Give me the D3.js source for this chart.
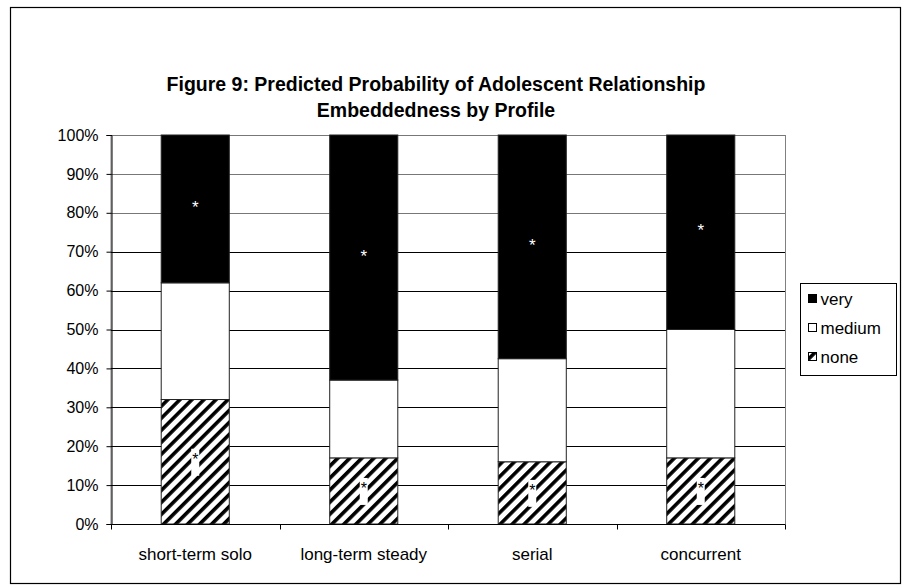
<!DOCTYPE html>
<html>
<head>
<meta charset="utf-8">
<script src="https://cdn.jsdelivr.net/npm/d3@7"></script>
<style>
  html, body { margin: 0; padding: 0; background: #fff; }
  svg { display: block; font-family: "Liberation Sans", Arial, sans-serif; }
</style>
</head>
<body>
<svg id="chart" width="906" height="585"></svg>
<script>
// Profiles and predicted probabilities (percent) for each embeddedness level
const categories = ["short-term solo", "long-term steady", "serial", "concurrent"];
const noneValues = [32, 17, 16, 17];
const mediumValues = [30, 20, 26.5, 33];
const veryValues = [38, 63, 57.5, 50];
// Significance markers placed on segments
const veryMarks = ["*", "*", "*", "*"];
const noneMarks = ["*", "*", "*", "*"];
const yTicks = [0, 10, 20, 30, 40, 50, 60, 70, 80, 90, 100];
const seriesNames = ["none", "medium", "very"];
const legendOrder = ["very", "medium", "none"];

const svg = d3.select("#chart");

// chart frame
svg.append("rect")
  .attr("x", 10.5).attr("y", 7.5).attr("width", 890).attr("height", 576)
  .attr("fill", "#fff").attr("stroke", "#000").attr("stroke-width", 1.2);

// diagonal hatch for the "none" level
const defs = svg.append("defs");
const pat = defs.append("pattern")
  .attr("id", "hatch").attr("patternUnits", "userSpaceOnUse")
  .attr("width", 8.5).attr("height", 8.5)
  .attr("patternTransform", "rotate(45)");
pat.append("rect").attr("width", 8.5).attr("height", 8.5).attr("fill", "#fff");
pat.append("rect").attr("x", 0).attr("width", 3.6).attr("height", 8.5).attr("fill", "#000");

const plot = { left: 111, right: 785, top: 135, bottom: 524 };

const x = d3.scaleBand().domain(categories).range([plot.left, plot.right]).padding(0);
const y = d3.scaleLinear().domain([0, 100]).range([plot.bottom, plot.top]);
const barW = x.bandwidth() * 0.404;

// title
const title = svg.append("text")
  .attr("x", 436).attr("text-anchor", "middle")
  .attr("font-weight", "bold").attr("font-size", 19.5).attr("fill", "#000");
title.append("tspan").attr("x", 436).attr("y", 91).text("Figure 9: Predicted Probability of Adolescent Relationship");
title.append("tspan").attr("x", 436).attr("y", 117).text("Embeddedness by Profile");

// plot area border
svg.append("rect")
  .attr("x", plot.left).attr("y", plot.top + 0.5)
  .attr("width", plot.right - plot.left + 0.5).attr("height", plot.bottom - plot.top)
  .attr("fill", "#fff").attr("stroke", "#808080").attr("stroke-width", 1);

// gridlines
svg.append("g").selectAll("line").data(yTicks.filter(d => d > 0)).join("line")
  .attr("x1", plot.left).attr("x2", plot.right)
  .attr("y1", d => Math.round(y(d)) + 0.5).attr("y2", d => Math.round(y(d)) + 0.5)
  .attr("stroke", d => d >= 80 ? "#777" : "#000").attr("stroke-width", 1);

// stacked series
const rows = categories.map((c, i) => ({ cat: c, none: noneValues[i], medium: mediumValues[i], very: veryValues[i] }));
const stacked = d3.stack().keys(seriesNames)(rows);
const fills = { none: "url(#hatch)", medium: "#fff", very: "#000" };

stacked.forEach(layer => {
  svg.append("g").selectAll("rect").data(layer).join("rect")
    .attr("x", d => x(d.data.cat) + (x.bandwidth() - barW) / 2)
    .attr("y", d => y(d[1]))
    .attr("width", barW)
    .attr("height", d => y(d[0]) - y(d[1]))
    .attr("fill", fills[layer.key])
    .attr("stroke", "#222").attr("stroke-width", 1);
});

// markers on the "very" segments
const veryLayer = stacked[2];
svg.append("g").selectAll("text").data(veryLayer).join("text")
  .attr("x", d => x(d.data.cat) + x.bandwidth() / 2)
  .attr("y", d => y((d[0] + d[1]) / 2) + 4)
  .attr("text-anchor", "middle").attr("font-size", 17).attr("fill", "#fff")
  .text((d, i) => veryMarks[i]);

// markers on the "none" segments, with a white label box
const noneLayer = stacked[0];
const noneG = svg.append("g").selectAll("g").data(noneLayer).join("g")
  .attr("transform", d => `translate(${x(d.data.cat) + x.bandwidth() / 2},${y((d[0] + d[1]) / 2)})`);
noneG.append("rect")
  .attr("x", -4).attr("y", -13).attr("width", 8).attr("height", 27).attr("fill", "#fff");
noneG.append("text")
  .attr("x", 0).attr("y", 3).attr("text-anchor", "middle")
  .attr("font-size", 16).attr("fill", "#000")
  .text((d, i) => noneMarks[i]);

// y axis
const yAxis = svg.append("g")
  .attr("transform", `translate(${plot.left + 0.5},0)`)
  .call(d3.axisLeft(y).tickValues(yTicks).tickFormat(d => d + "%").tickSize(5).tickPadding(8));
yAxis.selectAll("path,line").attr("stroke", "#000");
yAxis.selectAll("text").attr("font-size", 16).attr("font-family", "Liberation Sans, Arial, sans-serif").attr("fill", "#000");

// x axis with ticks between categories
const xAxisG = svg.append("g").attr("transform", `translate(0,${plot.bottom + 0.5})`);
xAxisG.append("line").attr("x1", plot.left).attr("x2", plot.right).attr("stroke", "#000");
const bounds = d3.range(categories.length + 1).map(i => plot.left + i * x.step());
xAxisG.selectAll("line.tick").data(bounds).join("line").attr("class", "tick")
  .attr("x1", d => Math.round(d) + 0.5).attr("x2", d => Math.round(d) + 0.5)
  .attr("y1", 0).attr("y2", 5).attr("stroke", "#000");
xAxisG.selectAll("text").data(categories).join("text")
  .attr("x", d => x(d) + x.bandwidth() / 2).attr("y", 35)
  .attr("text-anchor", "middle").attr("font-size", 17).attr("fill", "#000")
  .text(d => d);

// legend
const lg = svg.append("g").attr("transform", "translate(800.5,283.5)");
lg.append("rect").attr("width", 96).attr("height", 92).attr("fill", "#fff").attr("stroke", "#000");
const legendFill = { very: "#000", medium: "#fff", none: "url(#hatch)" };
legendOrder.forEach((k, i) => {
  const row = lg.append("g").attr("transform", `translate(8,${15 + i * 29})`);
  row.append("rect").attr("x", 0).attr("y", -4).attr("width", 8).attr("height", 8)
    .attr("fill", legendFill[k]).attr("stroke", "#000");
  row.append("text").attr("x", 12).attr("y", 6).attr("font-size", 17).attr("fill", "#000").text(k);
});
</script>
</body>
</html>
